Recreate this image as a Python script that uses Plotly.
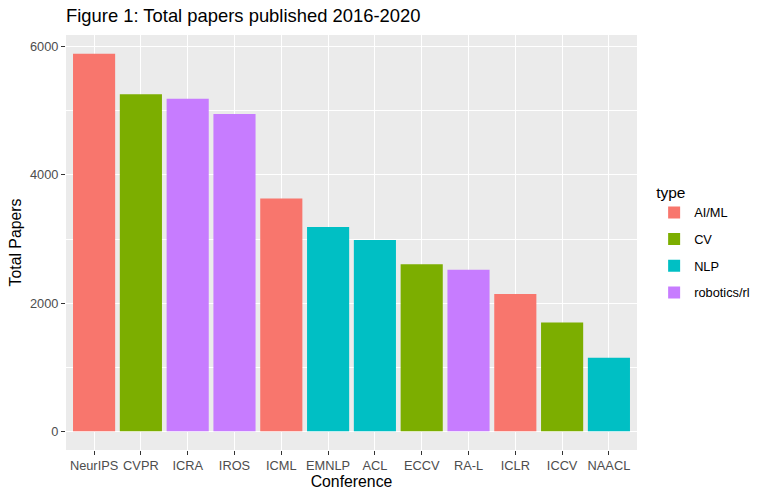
import plotly.graph_objects as go

# Total papers 2016-2020 per conference
conferences = ["NeurIPS", "CVPR", "ICRA", "IROS", "ICML", "EMNLP",
               "ACL", "ECCV", "RA-L", "ICLR", "ICCV", "NAACL"]
conf_type = ["AI/ML", "CV", "robotics/rl", "robotics/rl", "AI/ML", "NLP",
             "NLP", "CV", "robotics/rl", "AI/ML", "CV", "NLP"]
total_papers = [5891, 5262, 5192, 4953, 3632, 3188,
                2984, 2605, 2521, 2141, 1698, 1146]

types = ["AI/ML", "CV", "NLP", "robotics/rl"]
type_colors = ["#F8766D", "#7CAE00", "#00BFC4", "#C77CFF"]

fig = go.Figure()
for t, c in zip(types, type_colors):
    xs = [conf for conf, ct in zip(conferences, conf_type) if ct == t]
    ys = [p for p, ct in zip(total_papers, conf_type) if ct == t]
    fig.add_trace(go.Bar(x=xs, y=ys, name=t, marker_color=c,
                         marker_line_width=0, width=0.9, legendgroup=t))

ymax = max(total_papers)
pad = ymax * 0.05

fig.update_layout(
    width=768, height=499,
    barmode="overlay",
    plot_bgcolor="#EBEBEB", paper_bgcolor="white",
    font=dict(family="Liberation Sans, Arial, sans-serif", color="black"),
    margin=dict(l=66, r=131, t=35, b=49),
    title=dict(text="Figure 1: Total papers published 2016-2020",
               x=66 / 768, xanchor="left", y=1 - 16 / 499, yanchor="middle",
               font=dict(size=18.4)),
    legend=dict(title=dict(text="type", font=dict(size=15.5)),
                font=dict(size=12.8), x=1.03, xanchor="left",
                y=0.5, yanchor="middle", traceorder="grouped",
                itemwidth=30, tracegroupgap=7, borderwidth=0),
    showlegend=True,
)
fig.update_xaxes(
    categoryorder="array", categoryarray=conferences,
    title=dict(text="Conference", font=dict(size=15.8), standoff=2),
    tickfont=dict(size=12.8, color="#4D4D4D"),
    showgrid=True, gridcolor="white", gridwidth=1.1,
    ticks="outside", ticklen=4, tickcolor="#333333", tickwidth=1.1,
    range=[-0.6, len(conferences) - 0.4], zeroline=False, automargin=False,
)
fig.update_yaxes(
    range=[-pad, ymax + pad],
    tickvals=[0, 2000, 4000, 6000],
    title=dict(text="Total Papers", font=dict(size=15.8), standoff=4),
    tickfont=dict(size=12.8, color="#4D4D4D"),
    showgrid=True, gridcolor="white", gridwidth=1.1,
    minor=dict(tickvals=[1000, 3000, 5000], showgrid=True,
               gridcolor="white", gridwidth=0.55),
    ticks="outside", ticklen=4, tickcolor="#333333", tickwidth=1.1,
    zeroline=False, automargin=False,
)

# drop the page's default body margin so the figure sits at the window origin
fig.write_html("out.html", config={"displayModeBar": False},
               post_script="document.body.style.margin='0';")
